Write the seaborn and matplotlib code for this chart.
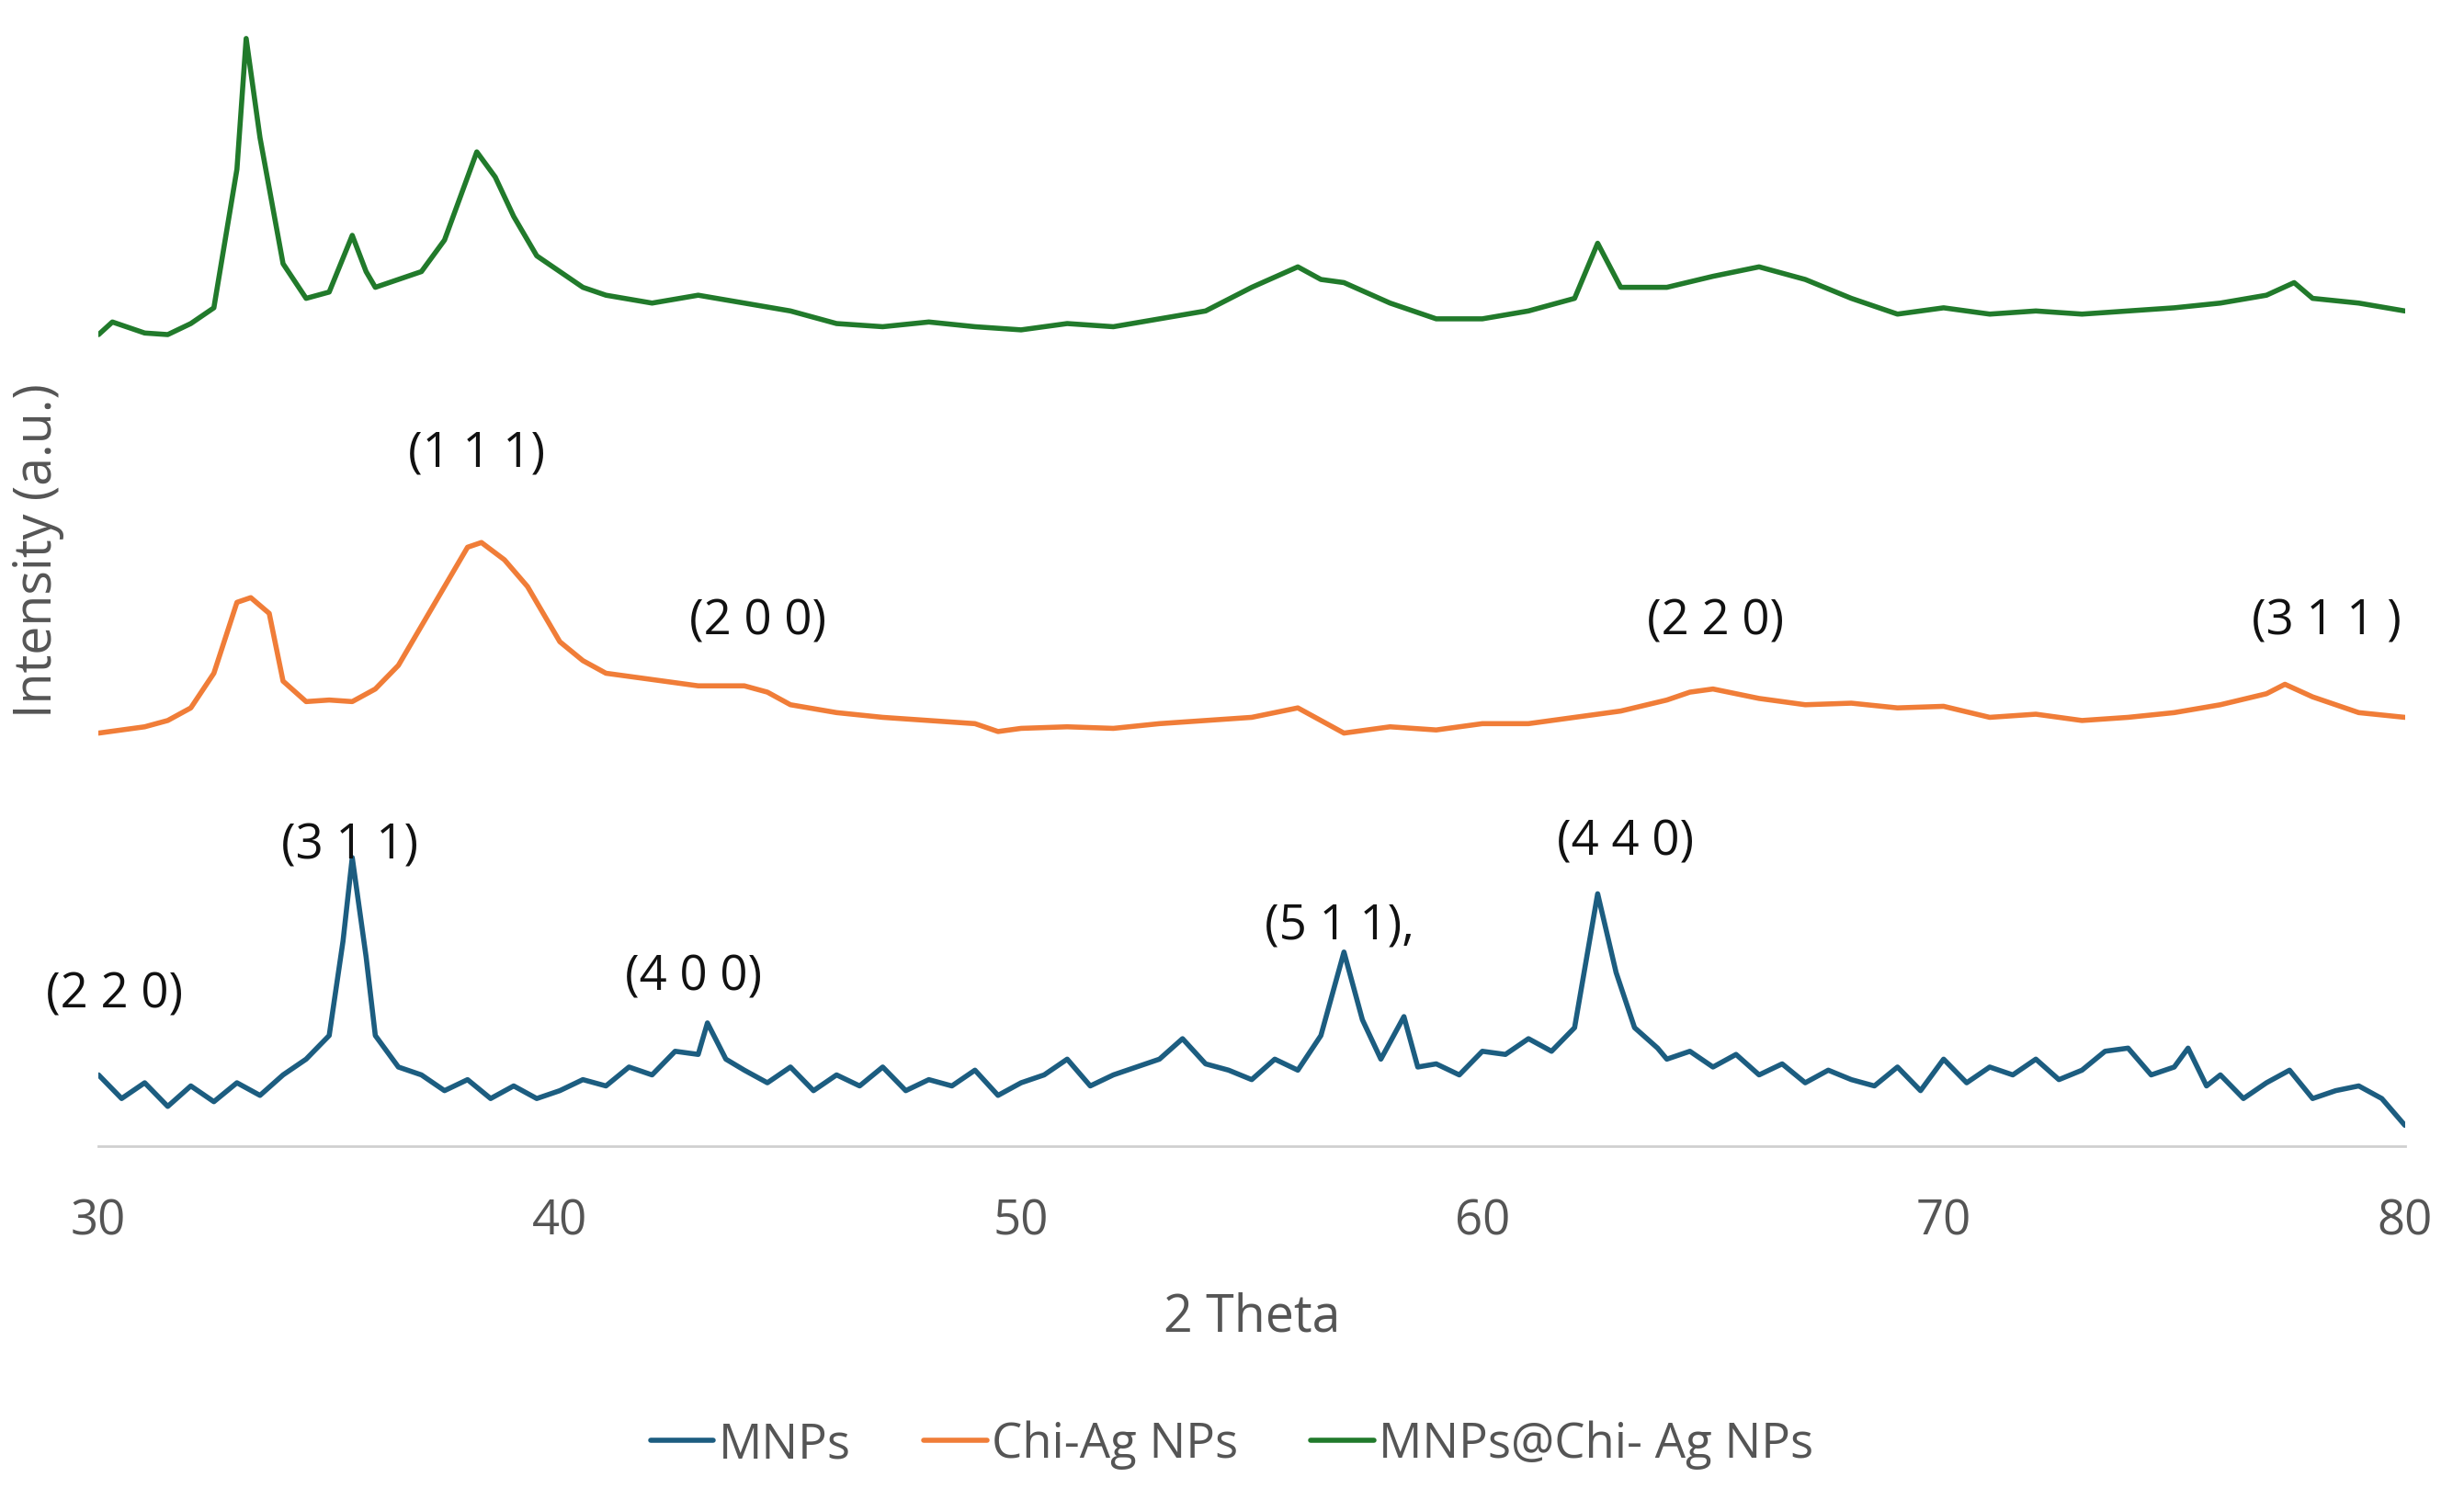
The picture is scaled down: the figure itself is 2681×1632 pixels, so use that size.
import matplotlib
matplotlib.use("Agg")
import matplotlib.pyplot as plt
import seaborn as sns
import pandas as pd

# MNPs
mnp_x = [30, 30.5, 31, 31.5, 32, 32.5, 33, 33.5, 34, 34.5, 35, 35.3, 35.5, 35.8, 36, 36.5, 37, 37.5, 38, 38.5,
         39, 39.5, 40, 40.5, 41, 41.5, 42, 42.5, 43, 43.2, 43.6, 44, 44.5, 45, 45.5, 46, 46.5, 47, 47.5, 48,
         48.5, 49, 49.5, 50, 50.5, 51, 51.5, 52, 52.5, 53, 53.5, 54, 54.5, 55, 55.5, 56, 56.5, 57, 57.4, 57.8,
         58.3, 58.6, 59, 59.5, 60, 60.5, 61, 61.5, 62, 62.5, 62.9, 63.3, 63.8, 64, 64.5, 65, 65.5, 66, 66.5, 67,
         67.5, 68, 68.5, 69, 69.5, 70, 70.5, 71, 71.5, 72, 72.5, 73, 73.5, 74, 74.5, 75, 75.3, 75.7, 76, 76.5,
         77, 77.5, 78, 78.5, 79, 79.5, 80]
mnp_y = [45, 30, 40, 25, 38, 28, 40, 32, 45, 55, 70, 130, 183, 120, 70, 50, 45, 35, 42, 30,
         38, 30, 35, 42, 38, 50, 45, 60, 58, 78, 55, 48, 40, 50, 35, 45, 38, 50, 35, 42,
         38, 48, 32, 40, 45, 55, 38, 45, 50, 55, 68, 52, 48, 42, 55, 48, 70, 123, 80, 55,
         82, 50, 52, 45, 60, 58, 68, 60, 75, 160, 110, 75, 62, 55, 60, 50, 58, 45, 52, 40,
         48, 42, 38, 50, 35, 55, 40, 50, 45, 55, 42, 48, 60, 62, 45, 50, 62, 38, 45, 30,
         40, 48, 30, 35, 38, 30, 13]

# Chi-Ag NPs
chi_x = [30, 31, 31.5, 32, 32.5, 33, 33.3, 33.7, 34, 34.5, 35, 35.5, 36, 36.5, 37, 37.5, 38, 38.3, 38.8, 39.3,
         40, 40.5, 41, 42, 43, 44, 44.5, 45, 46, 47, 48, 49, 49.5, 50, 51, 52, 53, 54, 55, 56,
         56.5, 57, 58, 59, 60, 61, 62, 63, 64, 64.5, 65, 66, 67, 68, 69, 70, 71, 72, 73, 74,
         75, 76, 77, 77.4, 78, 79, 80]
chi_y = [262, 266, 270, 278, 300, 345, 348, 338, 295, 282, 283, 282, 290, 305, 330, 355, 380, 383, 372, 355,
         320, 308, 300, 296, 292, 292, 288, 280, 275, 272, 270, 268, 263, 265, 266, 265, 268, 270, 272, 278,
         270, 262, 266, 264, 268, 268, 272, 276, 283, 288, 290, 284, 280, 281, 278, 279, 272, 274, 270, 272,
         275, 280, 287, 293, 285, 275, 272]

# MNPs@Chi- Ag NPs
comp_x = [30, 30.3, 31, 31.5, 32, 32.5, 33, 33.2, 33.5, 34, 34.5, 35, 35.5, 35.8, 36, 36.5, 37, 37.5, 38, 38.2,
          38.6, 39, 39.5, 40, 40.5, 41, 42, 43, 44, 45, 46, 47, 48, 49, 50, 51, 52, 53, 54, 55,
          56, 56.5, 57, 58, 59, 60, 61, 62, 62.5, 63, 64, 65, 66, 67, 68, 69, 70, 71, 72, 73,
          74, 75, 76, 77, 77.6, 78, 79, 80]
comp_y = [515, 523, 516, 515, 522, 532, 620, 703, 640, 560, 538, 542, 578, 555, 545, 550, 555, 575, 615, 631,
          615, 590, 565, 555, 545, 540, 535, 540, 535, 530, 522, 520, 523, 520, 518, 522, 520, 525, 530, 545,
          558, 550, 548, 535, 525, 525, 530, 538, 573, 545, 545, 552, 558, 550, 538, 528, 532, 528, 530, 528,
          530, 532, 535, 540, 548, 538, 535, 530]

series = ["MNPs", "Chi-Ag NPs", "MNPs@Chi- Ag NPs"]
colors = ["#1c5d80", "#f07d38", "#217a2b"]

# peak labels: (text, x, y)
labels = [("(2 2 0)", 30.35, 96), ("(3 1 1)", 35.45, 191), ("(4 0 0)", 42.9, 107),
          ("(5 1 1),", 56.9, 140), ("(4 4 0)", 63.1, 193),
          ("(1 1 1)", 38.2, 440), ("(2 0 0)", 44.3, 333), ("(2 2 0)", 65.05, 333),
          ("(3 1 1 )", 78.3, 333)]

df = pd.concat([
    pd.DataFrame({"x": mnp_x, "y": mnp_y, "s": series[0]}),
    pd.DataFrame({"x": chi_x, "y": chi_y, "s": series[1]}),
    pd.DataFrame({"x": comp_x, "y": comp_y, "s": series[2]}),
])

sns.set_style("white")
plt.rcParams["font.family"] = ["Open Sans", "DejaVu Sans"]

fig = plt.figure(figsize=(26.81, 16.33), dpi=100)
ax = fig.add_axes([0.04, 0.236, 0.936, 0.764])
sns.lineplot(data=df, x="x", y="y", hue="s", palette=colors, linewidth=4, ax=ax, sort=False)

for t, x, y in labels:
    ax.text(x, y, t, ha="center", va="center", fontsize=38, color="#111111", clip_on=False)

ax.set_xlim(30, 80)
ax.set_ylim(0, 728)
ax.set_yticks([])
ax.set_xticks(range(30, 81, 10))
ax.tick_params(axis="x", labelsize=38, labelcolor="#555555", length=0, pad=40)
for s in ["top", "right", "left"]:
    ax.spines[s].set_visible(False)
ax.spines["bottom"].set_color("#d0d0d0")
ax.spines["bottom"].set_linewidth(2)
ax.set_xlabel("2 Theta", fontsize=40, color="#555555", labelpad=35)
ax.set_ylabel("Intensity (a.u.)", fontsize=40, color="#555555", labelpad=0)
ax.yaxis.set_label_coords(-0.015, 0.52)

h, l = ax.get_legend_handles_labels()
ax.get_legend().remove()
fig.legend(h, l, loc="center", bbox_to_anchor=(0.5, 0.037), ncol=3, frameon=False,
           fontsize=38, handlelength=1.3, handletextpad=0.1, columnspacing=1.5, labelcolor="#555555")

fig.savefig("out.png", dpi=100)
